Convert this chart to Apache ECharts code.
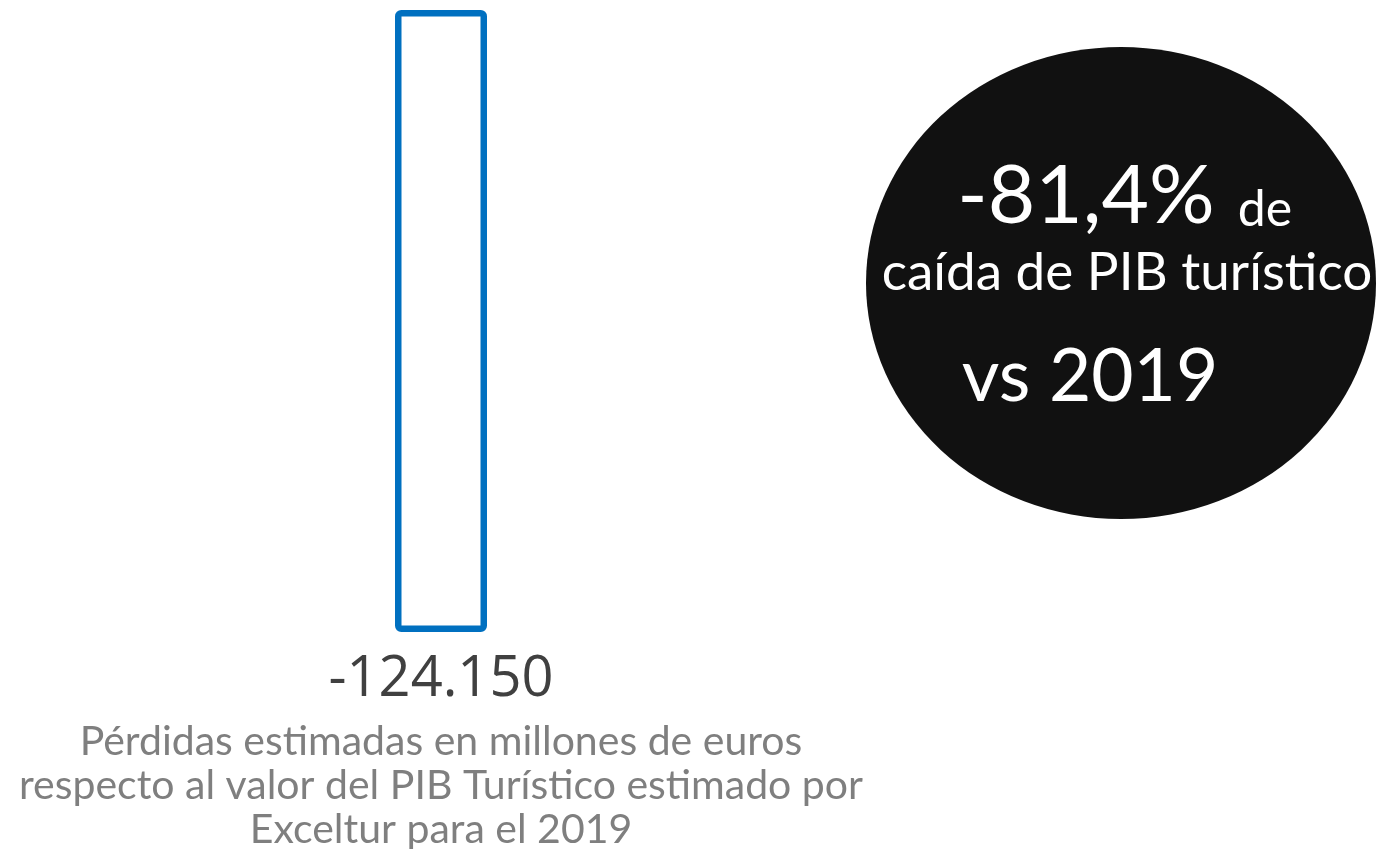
<!DOCTYPE html>
<html><head><meta charset="utf-8">
<script src="https://cdn.jsdelivr.net/npm/echarts@6/dist/echarts.min.js"></script>
<style>html,body{margin:0;padding:0;background:#fff}#c{width:1376px;height:849px}</style>
</head><body><div id="c"></div>
<script>
const categories = ['PIB Turístico'];
const values = [-124150];
const captionLines = ['Pérdidas estimadas en millones de euros', 'respecto al valor del PIB Turístico estimado por', 'Exceltur para el 2019'];
const badgeLines = ['-81,4%', 'de', 'caída de PIB turístico', 'vs 2019'];

const chart = echarts.init(document.getElementById('c'), null, {renderer: 'canvas'});
chart.setOption({
  animation: false,
  backgroundColor: '#fff',
  grid: {left: 341, width: 200, top: 10, bottom: 217},
  xAxis: {type: 'category', data: categories, show: false},
  yAxis: {type: 'value', min: -124150, max: 0, show: false},
  series: [{
    type: 'bar',
    data: values,
    barWidth: 92,
    itemStyle: {color: '#fff', borderColor: '#0070C0', borderWidth: 6.5, borderRadius: 3},
    label: {
      show: true, position: 'bottom', distance: 20,
      fontFamily: 'Open Sans', fontSize: 56, color: '#404040',
      formatter: p => (p.value < 0 ? '-' : '') + Math.abs(p.value).toLocaleString('de-DE')
    }
  }],
  graphic: [
    {type: 'text', x: 441, y: 720, style: {
      text: captionLines.join('\n'), fill: '#7f7f7f', fontFamily: 'Lato', fontWeight: 400, fontSize: 41,
      textAlign: 'center', lineHeight: 44
    }},
    {type: 'circle', shape: {cx: 0, cy: 0, r: 236}, x: 1121, y: 283, scaleX: 255/236, style: {fill: '#111'}},
    {type: 'text', x: 1086, y: 197, style: {text: badgeLines[0], fill: '#fff', fontFamily: 'Lato', fontSize: 82, textAlign: 'center', textVerticalAlign: 'middle'}},
    {type: 'text', x: 1265, y: 210, style: {text: badgeLines[1], fill: '#fff', fontFamily: 'Lato', fontSize: 50, textAlign: 'center', textVerticalAlign: 'middle'}},
    {type: 'text', x: 1127, y: 273, style: {text: badgeLines[2], fill: '#fff', fontFamily: 'Lato', fontSize: 53, textAlign: 'center', textVerticalAlign: 'middle'}},
    {type: 'text', x: 1090, y: 377, style: {text: badgeLines[3], fill: '#fff', fontFamily: 'Lato', fontSize: 73, textAlign: 'center', textVerticalAlign: 'middle'}}
  ]
});
</script></body></html>
